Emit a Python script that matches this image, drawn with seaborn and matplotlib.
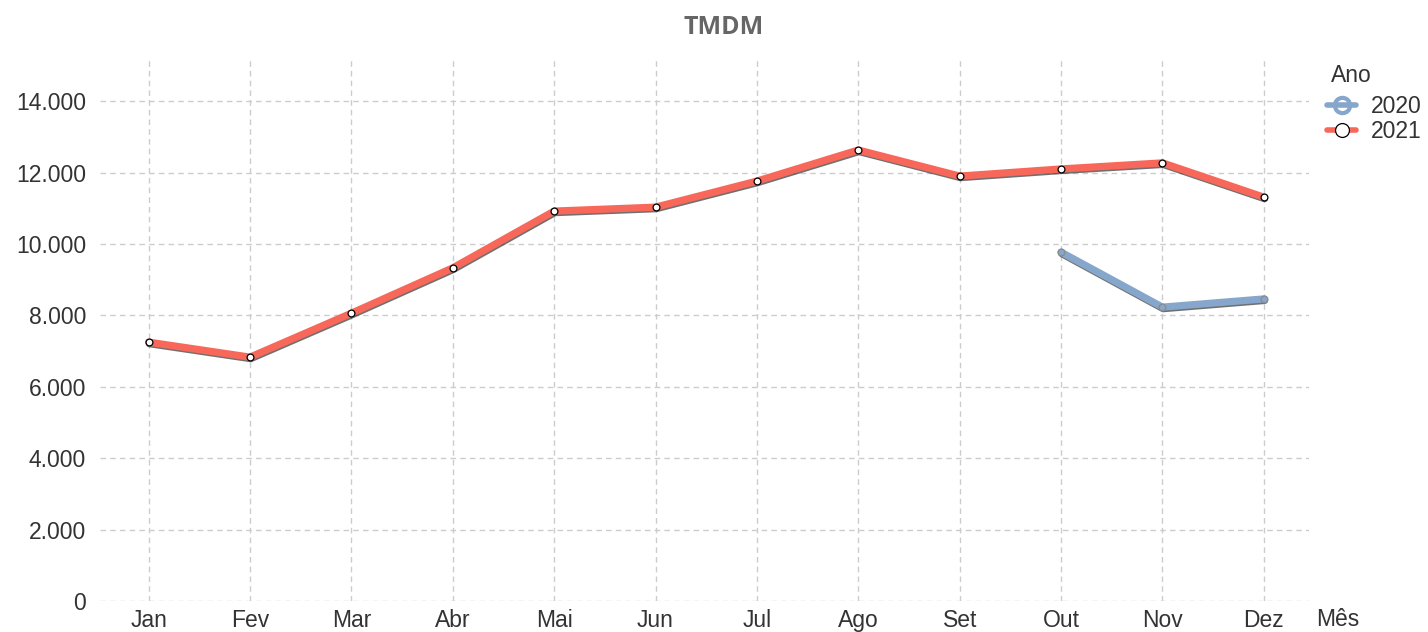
import numpy as np
import pandas as pd
import matplotlib
matplotlib.use("Agg")
import matplotlib.pyplot as plt
import matplotlib.patheffects as pe
from matplotlib.ticker import FuncFormatter
from matplotlib.lines import Line2D
import seaborn as sns

months = ["Jan", "Fev", "Mar", "Abr", "Mai", "Jun", "Jul", "Ago", "Set", "Out", "Nov", "Dez"]
months_2020 = ["Out", "Nov", "Dez"]
tmdm_2020 = [9770, 8230, 8460]
tmdm_2021 = [7250, 6830, 8060, 9330, 10920, 11030, 11760, 12630, 11900, 12100, 12270, 11310]

df = pd.concat([
    pd.DataFrame({"Mês": months_2020, "TMDM": tmdm_2020, "Ano": "2020"}),
    pd.DataFrame({"Mês": months, "TMDM": tmdm_2021, "Ano": "2021"}),
], ignore_index=True)
df["pos"] = df["Mês"].map({m: i for i, m in enumerate(months)})

sns.set_style("white")
plt.rcParams["font.family"] = ["Liberation Sans", "DejaVu Sans"]

FS = 16.5
TXT = "#333333"
colors = {"2020": "#87a6cc", "2021": "#f8685a"}

fig = plt.figure(figsize=(14.28, 6.32), dpi=100)
ax = fig.add_axes([0.070, 0.049, 0.847, 0.856])

shadow = [pe.SimpleLineShadow(offset=(0.5, -1.1), shadow_color="#111111", alpha=0.6),
          pe.Normal()]

sns.lineplot(data=df, x="pos", y="TMDM", hue="Ano", palette=colors, ax=ax,
             linewidth=5.2, legend=False, sort=False)
for ln in ax.get_lines():
    ln.set_path_effects(shadow)
    ln.set_solid_capstyle("round")

# point markers
for ano, ec, fc in [("2020", "#8a8a8a", "#87a6cc"), ("2021", "black", "white")]:
    sub = df[df["Ano"] == ano]
    ax.scatter(sub["pos"], sub["TMDM"], s=24, facecolor=fc, edgecolor=ec,
               linewidth=0.9, zorder=5)

ax.set_xlim(-0.48, 11.45)
ax.set_ylim(0, 15150)
ax.set_xticks(range(len(months)))
ax.set_xticklabels(months)
ax.set_yticks(np.arange(0, 14001, 2000))
ax.yaxis.set_major_formatter(FuncFormatter(lambda v, p: f"{int(v):,}".replace(",", ".")))
ax.tick_params(axis="both", labelsize=FS, labelcolor=TXT, length=0)
ax.tick_params(axis="x", pad=6)
ax.tick_params(axis="y", pad=10)
ax.grid(True, linestyle=(0, (4, 3)), color="#cccccc", linewidth=1)
for s in ax.spines.values():
    s.set_visible(False)
ax.set_xlabel("")
ax.set_ylabel("")
fig.text(0.937, 0.019, "Mês", fontsize=FS, color=TXT, ha="center", va="center")

fig.text(0.507, 0.957, "TMDM", fontsize=18, fontweight="bold", color="#666666",
         family=["Open Sans", "DejaVu Sans"], ha="center", va="center")

# legend: title placed as its own text, entries below
fig.text(0.946, 0.881, "Ano", fontsize=FS, color=TXT, ha="center", va="center")
handles = [
    Line2D([], [], color="#87a6cc", linewidth=4, marker="o", markersize=11,
           markerfacecolor="none", markeredgecolor="#87a6cc", markeredgewidth=3),
    Line2D([], [], color="#f8685a", linewidth=4, marker="o", markersize=10,
           markerfacecolor="white", markeredgecolor="black", markeredgewidth=0.9),
]
leg = fig.legend(handles, ["2020", "2021"], loc="upper left",
                 bbox_to_anchor=(0.929, 0.849), frameon=False, fontsize=FS,
                 handlelength=1.3, handletextpad=0.65,
                 labelspacing=0.05, borderaxespad=0, borderpad=0)
for t in leg.get_texts():
    t.set_color(TXT)

fig.savefig("out.png", dpi=100)
